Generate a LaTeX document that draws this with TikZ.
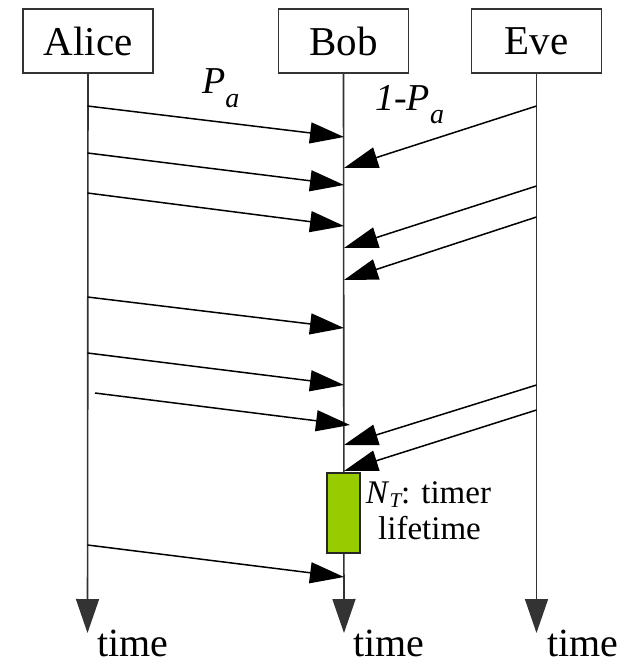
\documentclass[tikz,border=0pt]{standalone}
\usepackage{fontspec}
\setmainfont{Liberation Serif}
\usetikzlibrary{arrows.meta}
\definecolor{timergreen}{RGB}{153,204,0}
\tikzset{
  actor/.style={draw=black!80, line width=1.6pt, minimum width=130pt, minimum height=64pt,
    inner sep=0pt, font=\fontsize{41}{41}\selectfont},
  lifeline/.style={draw=black!80, line width=1.6pt, -{Triangle[length=34pt,width=23pt]}},
  msg/.style={draw=black, line width=1.5pt, -{Triangle[length=34pt,width=21pt]}},
  timelabel/.style={anchor=base west, inner sep=0pt, font=\fontsize{40}{40}\selectfont},
  problabel/.style={anchor=base west, inner sep=0pt, font=\fontsize{38}{38}\selectfont\itshape},
  timerbox/.style={draw=black!85, line width=1.5pt, fill=timergreen, minimum width=33pt,
    minimum height=80pt, inner sep=0pt},
  timertext/.style={anchor=base, inner sep=0pt, font=\fontsize{33}{33}\selectfont},
}
\newcommand{\subsc}[2]{\raisebox{-#1}{\fontsize{28}{28}\selectfont\itshape #2}}
\begin{document}
\begin{tikzpicture}[x=1pt,y=-1pt]
\useasboundingbox (0,0) rectangle (631,665);
% actors
\node[actor] (alice) at (88,41) {Alice};
\node[actor] (bob) at (343.5,41) {Bob};
\node[actor] (eve) at (536.5,41) {Eve};
% lifeline ends
\coordinate (aend) at (87.5,633);
\coordinate (bend) at (344,633);
\coordinate (eend) at (536.5,633);
\draw[lifeline] (alice.south) -- (aend);
\draw[lifeline] (bob.south) -- (bend);
\draw[lifeline] (eve.south) -- (eend);
% message points on Alice
\coordinate (a1) at (87.5,106);
\coordinate (a2) at (87.5,153);
\coordinate (a3) at (87.5,193);
\coordinate (a4) at (87.5,297);
\coordinate (a5) at (87.5,353);
\coordinate (a6) at (95,393);
\coordinate (a7) at (87.5,545);
% points on Bob (from Alice)
\coordinate (b1) at (344,137);
\coordinate (b2) at (344,185);
\coordinate (b3) at (344,226);
\coordinate (b4) at (344,328);
\coordinate (b5) at (344,385);
\coordinate (b6) at (350,425);
\coordinate (b7) at (344,577);
% points on Eve
\coordinate (e1) at (536.5,106);
\coordinate (e2) at (536.5,186);
\coordinate (e3) at (536.5,217);
\coordinate (e4) at (536.5,385);
\coordinate (e5) at (536.5,410);
% points on Bob (from Eve)
\coordinate (c1) at (344,168);
\coordinate (c2) at (344,248);
\coordinate (c3) at (344,280);
\coordinate (c4) at (344,445);
\coordinate (c5) at (344,471);
\foreach \i in {1,...,7} { \draw[msg] (a\i) -- (b\i); }
\foreach \i in {1,...,5} { \draw[msg] (e\i) -- (c\i); }
% timer
\node[timerbox] (timer) at (343.5,513) {};
\node[timertext] (tt1) at (428.5,503) {\textit{N}\raisebox{-4pt}{\fontsize{21}{21}\selectfont\itshape T}: timer};
\node[timertext] (tt2) at (429.5,539) {lifetime};
% probability labels
\node[problabel] (pa) at (202,93) {P\subsc{14pt}{a}};
\node[problabel] (qa) at (375,110) {1-P\subsc{13pt}{a}};
% time labels
\node[timelabel] (ta) at (97,656) {time};
\node[timelabel] (tb) at (353,656) {time};
\node[timelabel] (te) at (547,656) {time};
\end{tikzpicture}
\end{document}
